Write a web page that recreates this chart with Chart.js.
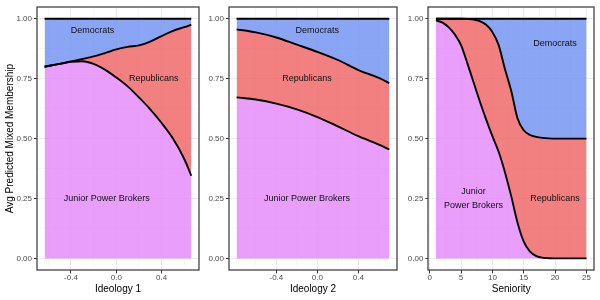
<!DOCTYPE html>
<html>
<head>
<meta charset="utf-8">
<script src="https://cdn.jsdelivr.net/npm/chart.js@4"></script>
<style>
  body { margin: 0; background: #ffffff; }
  #wrap { position: relative; width: 600px; height: 300px; background: #ffffff; }
  .panel { position: absolute; top: 0; width: 200px; height: 300px; }
</style>
</head>
<body>
<div id="wrap">
  <div class="panel" style="left:0px"><canvas id="c1" width="200" height="300"></canvas></div>
  <div class="panel" style="left:200px"><canvas id="c2" width="200" height="300"></canvas></div>
  <div class="panel" style="left:400px"><canvas id="c3" width="200" height="300"></canvas></div>
</div>
<script>
// shares of each group (stacked: junior, republicans, democrats)
var ideo1X = [-0.633, -0.5, -0.4, -0.3, -0.2, -0.1, 0, 0.1, 0.2, 0.3, 0.4, 0.5, 0.6, 0.662];
var ideo1Junior = [0.800, 0.812, 0.820, 0.823, 0.812, 0.788, 0.755, 0.718, 0.672, 0.622, 0.565, 0.500, 0.415, 0.345];
var ideo1Rep = [0.000, 0.000, 0.002, 0.009, 0.031, 0.069, 0.117, 0.165, 0.217, 0.283, 0.363, 0.450, 0.550, 0.630];
var ideo1Dem = [0.200, 0.188, 0.178, 0.168, 0.157, 0.143, 0.128, 0.117, 0.111, 0.095, 0.072, 0.050, 0.035, 0.025];

var ideo2X = [-0.788, -0.6, -0.4, -0.2, 0, 0.2, 0.4, 0.6, 0.702];
var ideo2Junior = [0.672, 0.663, 0.646, 0.622, 0.590, 0.551, 0.510, 0.475, 0.455];
var ideo2Rep = [0.284, 0.280, 0.276, 0.270, 0.272, 0.277, 0.276, 0.278, 0.276];
var ideo2Dem = [0.044, 0.057, 0.078, 0.108, 0.138, 0.172, 0.214, 0.247, 0.269];

var senX = [1, 2, 3, 4, 5, 6, 7, 8, 9, 10, 11, 12, 13, 14, 15, 16, 17, 18, 19, 20, 21, 22, 23, 24, 25];
var senJunior = [0.993, 0.985, 0.965, 0.935, 0.890, 0.815, 0.735, 0.655, 0.580, 0.510, 0.445, 0.360, 0.260, 0.150, 0.070, 0.028, 0.010, 0.003, 0.001, 0, 0, 0, 0, 0, 0];
var senRep = [0.007, 0.015, 0.035, 0.065, 0.110, 0.184, 0.262, 0.335, 0.395, 0.435, 0.445, 0.430, 0.440, 0.435, 0.465, 0.487, 0.497, 0.500, 0.500, 0.5, 0.5, 0.5, 0.5, 0.5, 0.5];
var senDem = [0, 0, 0, 0, 0, 0.001, 0.003, 0.010, 0.025, 0.055, 0.110, 0.210, 0.300, 0.415, 0.465, 0.485, 0.493, 0.497, 0.499, 0.5, 0.5, 0.5, 0.5, 0.5, 0.5];

var yTicks = [0, 0.25, 0.5, 0.75, 1];
var yTickLabels = ['0.00', '0.25', '0.50', '0.75', '1.00'];
var yMinor = [0.125, 0.375, 0.625, 0.875];

var ideoTicks = [-0.4, 0, 0.4];
var ideoTickLabels = ['-0.4', '0.0', '0.4'];
var ideoMinor = [-0.6, -0.2, 0.2, 0.6];

var senTicks = [0, 5, 10, 15, 20, 25];
var senTickLabels = ['0', '5', '10', '15', '20', '25'];
var senMinor = [2.5, 7.5, 12.5, 17.5, 22.5];

var FONT = "'Liberation Sans', Arial, sans-serif";
var fillJunior = 'rgba(228, 141, 249, 0.85)';
var fillRep = 'rgba(241, 106, 106, 0.85)';
var fillDem = 'rgba(119, 149, 243, 0.85)';

function pts(xs, ys) {
    var out = [];
    for (var i = 0; i < xs.length; i++) out.push({ x: xs[i], y: ys[i] });
    return out;
}

function isIn(arr, v) {
    for (var i = 0; i < arr.length; i++) {
        if (Math.abs(arr[i] - v) < 1e-9) return true;
    }
    return false;
}

function labelFor(ticks, labels, v) {
    for (var i = 0; i < ticks.length; i++) {
        if (Math.abs(ticks[i] - v) < 1e-9) return labels[i];
    }
    return '';
}

function makeChart(id, p) {
    var notesPlugin = {
        id: 'notes',
        afterDatasetsDraw: function (chart) {
            var ctx = chart.ctx;
            var xs = chart.scales.x, ys = chart.scales.y;
            ctx.save();
            ctx.font = '9px ' + FONT;
            ctx.fillStyle = '#111111';
            ctx.textAlign = 'center';
            ctx.textBaseline = 'middle';
            p.notes.forEach(function (n) {
                ctx.fillText(n.text, xs.getPixelForValue(n.x), ys.getPixelForValue(n.y));
            });
            ctx.restore();
        },
        afterDraw: function (chart) {
            var a = chart.chartArea;
            var ctx = chart.ctx;
            ctx.save();
            ctx.strokeStyle = '#444444';
            ctx.lineWidth = 1.3;
            ctx.strokeRect(Math.round(a.left), Math.round(a.top), Math.round(a.right) - Math.round(a.left), Math.round(a.bottom) - Math.round(a.top));
            ctx.restore();
        }
    };

    var lineBase = {
        borderColor: '#000000',
        borderWidth: 1.9,
        pointRadius: 0,
        cubicInterpolationMode: 'monotone'
    };

    return new Chart(document.getElementById(id), {
        type: 'line',
        data: {
            datasets: [
                Object.assign({ label: 'Junior Power Brokers', data: pts(p.xs, p.junior), backgroundColor: fillJunior, fill: 'origin' }, lineBase),
                Object.assign({ label: 'Republicans', data: pts(p.xs, p.rep), backgroundColor: fillRep, fill: '-1' }, lineBase),
                Object.assign({ label: 'Democrats', data: pts(p.xs, p.dem), backgroundColor: fillDem, fill: '-1' }, lineBase)
            ]
        },
        options: {
            responsive: false,
            animation: false,
            layout: { padding: { top: 5, right: p.padRight, left: 0, bottom: 0 } },
            plugins: {
                legend: { display: false },
                tooltip: { enabled: false },
                filler: { drawTime: 'beforeDatasetsDraw' }
            },
            scales: {
                x: {
                    type: 'linear',
                    min: p.xMin,
                    max: p.xMax,
                    afterBuildTicks: function (s) {
                        s.ticks = p.xTicks.concat(p.xMinor).sort(function (a, b) { return a - b; }).map(function (v) { return { value: v }; });
                    },
                    afterFit: function (s) { s.height = 29.6; },
                    border: { display: false },
                    grid: {
                        color: function (c) { return isIn(p.xTicks, c.tick.value) ? '#EBEBEB' : '#F1F1F1'; },
                        lineWidth: function (c) { return isIn(p.xTicks, c.tick.value) ? 1 : 0.6; },
                        tickColor: function (c) { return isIn(p.xTicks, c.tick.value) ? '#333333' : 'rgba(0,0,0,0)'; },
                        tickLength: 3,
                        tickWidth: 1
                    },
                    ticks: {
                        autoSkip: false,
                        maxRotation: 0,
                        padding: 0,
                        color: '#4D4D4D',
                        font: { family: FONT, size: 8 },
                        callback: function (v) { return labelFor(p.xTicks, p.xLabels, v); }
                    },
                    title: {
                        display: true,
                        text: p.xTitle,
                        color: '#000000',
                        font: { family: FONT, size: 10 },
                        padding: { top: 0, bottom: 5 }
                    }
                },
                y: {
                    stacked: true,
                    min: -0.05,
                    max: 1.05,
                    afterBuildTicks: function (s) {
                        s.ticks = yTicks.concat(yMinor).sort(function (a, b) { return a - b; }).map(function (v) { return { value: v }; });
                    },
                    afterFit: function (s) { s.width = p.yWidth; },
                    border: { display: false },
                    grid: {
                        color: function (c) { return isIn(yTicks, c.tick.value) ? '#EBEBEB' : '#F1F1F1'; },
                        lineWidth: function (c) { return isIn(yTicks, c.tick.value) ? 1 : 0.6; },
                        tickColor: function (c) { return isIn(yTicks, c.tick.value) ? '#333333' : 'rgba(0,0,0,0)'; },
                        tickLength: 3,
                        tickWidth: 1
                    },
                    ticks: {
                        autoSkip: false,
                        padding: 2,
                        color: '#4D4D4D',
                        font: { family: FONT, size: 8 },
                        callback: function (v) { return labelFor(yTicks, yTickLabels, v); }
                    },
                    title: {
                        display: p.yTitle !== '',
                        text: p.yTitle,
                        color: '#000000',
                        font: { family: FONT, size: 10 },
                        padding: { top: 4, bottom: 0 }
                    }
                }
            }
        },
        plugins: [notesPlugin]
    });
}

makeChart('c1', {
    xs: ideo1X, junior: ideo1Junior, rep: ideo1Rep, dem: ideo1Dem,
    xMin: -0.70, xMax: 0.73,
    xTicks: ideoTicks, xLabels: ideoTickLabels, xMinor: ideoMinor,
    xTitle: 'Ideology 1', yTitle: 'Avg Predicted Mixed Membership',
    yWidth: 37, padRight: 1,
    notes: [
        { text: 'Democrats', x: -0.21, y: 0.95 },
        { text: 'Republicans', x: 0.33, y: 0.75 },
        { text: 'Junior Power Brokers', x: -0.085, y: 0.25 }
    ]
});

makeChart('c2', {
    xs: ideo2X, junior: ideo2Junior, rep: ideo2Rep, dem: ideo2Dem,
    xMin: -0.862, xMax: 0.777,
    xTicks: ideoTicks, xLabels: ideoTickLabels, xMinor: ideoMinor,
    xTitle: 'Ideology 2', yTitle: '',
    yWidth: 29, padRight: 3,
    notes: [
        { text: 'Democrats', x: 0.0, y: 0.95 },
        { text: 'Republicans', x: -0.1, y: 0.75 },
        { text: 'Junior Power Brokers', x: -0.1, y: 0.25 }
    ]
});

makeChart('c3', {
    xs: senX, junior: senJunior, rep: senRep, dem: senDem,
    xMin: -0.2, xMax: 26.2,
    xTicks: senTicks, xLabels: senTickLabels, xMinor: senMinor,
    xTitle: 'Seniority', yTitle: '',
    yWidth: 28.4, padRight: 6,
    notes: [
        { text: 'Democrats', x: 20, y: 0.895 },
        { text: 'Republicans', x: 20, y: 0.25 },
        { text: 'Junior', x: 7, y: 0.28 },
        { text: 'Power Brokers', x: 7, y: 0.22 }
    ]
});
</script>
</body>
</html>
